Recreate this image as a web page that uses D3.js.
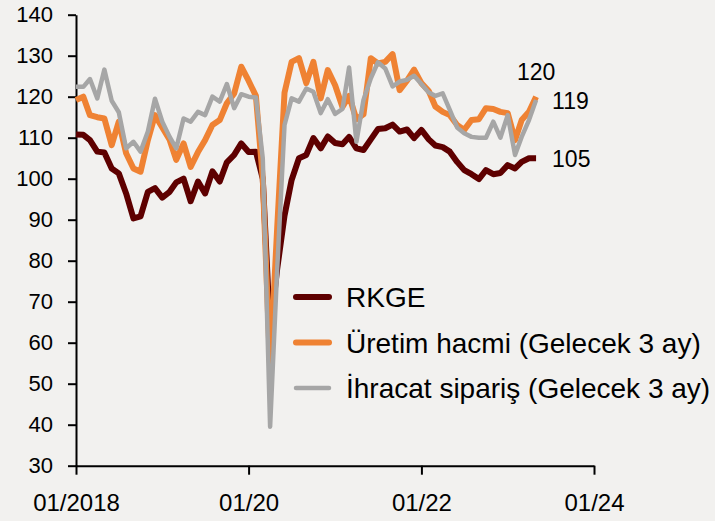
<!DOCTYPE html>
<html>
<head>
<meta charset="utf-8">
<script src="https://cdn.jsdelivr.net/npm/d3@7"></script>
<style>
  html, body { margin: 0; padding: 0; background: #f2f1ef; }
  svg { display: block; font-family: "Liberation Sans", Arial, sans-serif; }
</style>
</head>
<body>
<div id="chart"></div>
<script>
// monthly values, 01/2018 .. 05/2023
const startMonth = new Date(2018, 0, 1)

const rkge = [110.8, 110.7, 109.4, 106.6, 106.4, 102.5, 101.3, 96.4, 90.3, 90.8, 96.8, 97.7,
  95.4, 96.8, 99.1, 100, 94.5, 99.3, 96.4, 101.8, 99.3, 104, 105.8, 108.6,
  106.5, 106.6, 100, 63, 78, 91, 99.7, 105, 105.8, 109.9, 107.4, 110.3,
  108.7, 108.4, 110.2, 107.4, 107, 109.6, 112.1, 112.3, 113.2, 111.5, 112, 109.9,
  111.9, 109.6, 108.1, 107.7, 106.6, 104.1, 102.1, 101.1, 99.9, 102.1, 101.1, 101.4,
  103.3, 102.5, 104.1, 105, 105]

const uretim = [119.2, 120, 115.5, 115, 114.7, 108.2, 113.9, 106.2, 102.5, 101.7, 109.4, 115.5,
  112.5, 109.5, 104.6, 108.6, 102.9, 106.5, 109.4, 113.1, 114.3, 118.4, 120.8, 127.3,
  123.9, 120.2, 100, 54, 88, 121, 128.5, 129.4, 123.3, 128.5, 119.6, 126.5,
  122.8, 117.5, 120.2, 114.5, 115.7, 129.4, 128.1, 128.5, 130.4, 121.6, 123.9, 126.6,
  123.3, 121.4, 117.6, 116.3, 115.5, 113.1, 111.9, 114.3, 114.5, 117.2, 117, 116.3,
  116, 109.4, 114.3, 116.3, 120]

const ihracat = [122.4, 122.4, 124.3, 119.6, 126.6, 119, 116.2, 107.4, 109, 106.6, 111.5, 119.5,
  113.9, 110.2, 107.4, 114.7, 113.9, 116.3, 115.5, 120, 118.8, 123.1, 117.2, 120.6,
  120, 119.8, 105, 39.5, 78, 113.1, 119.6, 118.8, 122, 121.2, 116, 119.4,
  115.8, 117, 127.1, 109, 119.2, 124.5, 128.4, 126.9, 122.5, 123.7, 124.1, 125.1,
  123.1, 121, 120.2, 120.8, 116.8, 112.5, 111.1, 110.2, 110, 110, 113.9, 110,
  115.5, 105.8, 110.2, 114.3, 119.2]

const seriesNames = ['RKGE', 'Üretim hacmi (Gelecek 3 ay)', 'İhracat sipariş (Gelecek 3 ay)']
const seriesColors = ['#5e0000', '#ef8233', '#a6a6a6']
const seriesWidths = [6, 6, 4.5]

const yTicks = [30, 40, 50, 60, 70, 80, 90, 100, 110, 120, 130, 140]
const xTickDates = [new Date(2018, 0, 1), new Date(2020, 0, 1), new Date(2022, 0, 1), new Date(2024, 0, 1)]
const xTickLabels = ['01/2018', '01/20', '01/22', '01/24']

const W = 715, H = 521
const svg = d3.select('#chart').append('svg').attr('width', W).attr('height', H)
svg.append('rect').attr('width', W).attr('height', H).attr('fill', '#f2f1ef')

const x = d3.scaleTime().domain([xTickDates[0], xTickDates[3]]).range([76, 594])
const y = d3.scaleLinear().domain([30, 140]).range([465.7, 14.7])

const dateOf = i => d3.timeMonth.offset(startMonth, i)

// axes
const yAxis = svg.append('g').attr('transform', 'translate(76,0)')
  .call(d3.axisLeft(y).tickValues(yTicks).tickSize(8).tickSizeOuter(0).tickPadding(15))
yAxis.selectAll('text').attr('font-size', 22).attr('fill', '#000').attr('font-family', null)
yAxis.selectAll('line, path').attr('stroke', '#000').attr('stroke-width', 2)

const xAxis = svg.append('g').attr('transform', 'translate(0,465.7)')
  .call(d3.axisBottom(x).tickValues(xTickDates).tickSize(9).tickSizeOuter(0)
    .tickFormat((d, i) => xTickLabels[i]))
xAxis.selectAll('text').attr('font-size', 24).attr('fill', '#000').attr('font-family', null)
  .attr('dy', null).attr('y', 45)
xAxis.selectAll('line, path').attr('stroke', '#000').attr('stroke-width', 2)

// lines
const all = [rkge, uretim, ihracat]
const line = d3.line().x((d, i) => x(dateOf(i))).y(d => y(d))
all.forEach((s, k) => {
  svg.append('path').datum(s)
    .attr('d', line)
    .attr('fill', 'none')
    .attr('stroke', seriesColors[k])
    .attr('stroke-width', seriesWidths[k])
    .attr('stroke-linejoin', 'round')
})

// end labels
const last = rkge.length - 1
const lx = x(dateOf(last))
svg.append('text').attr('x', lx).attr('y', y(uretim[last]) - 17)
  .attr('text-anchor', 'middle').attr('font-size', 23).text(Math.round(uretim[last]))
svg.append('text').attr('x', lx + 16).attr('y', y(ihracat[last]) + 9)
  .attr('font-size', 23).text(Math.round(ihracat[last]))
svg.append('text').attr('x', lx + 16).attr('y', y(rkge[last]) + 9)
  .attr('font-size', 23).text(Math.round(rkge[last]))

// legend
const legend = svg.append('g')
seriesNames.forEach((name, k) => {
  const ly = 297 + k * 45.5
  legend.append('line')
    .attr('x1', 296).attr('x2', 329).attr('y1', ly).attr('y2', ly)
    .attr('stroke', seriesColors[k]).attr('stroke-width', seriesWidths[k])
    .attr('stroke-linecap', 'round')
  legend.append('text').attr('x', 346).attr('y', ly + 10)
    .attr('font-size', 28).attr('fill', '#000').text(name)
})
</script>
</body>
</html>
